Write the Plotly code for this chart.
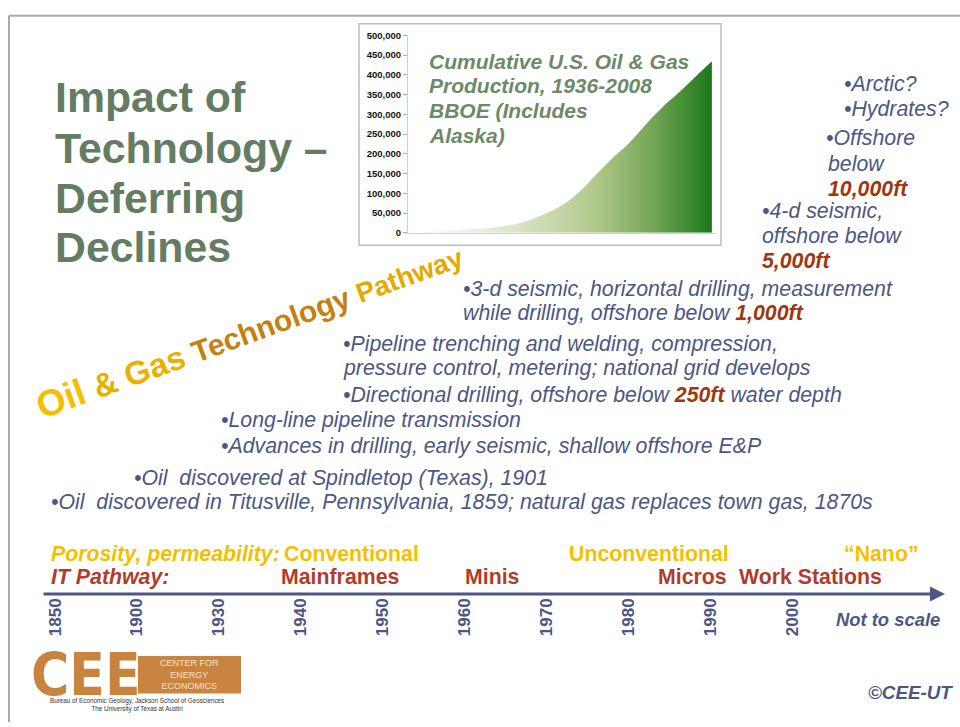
import plotly.graph_objects as go

W, H = 960, 727

# ---- Inset chart data: cumulative U.S. oil & gas production (BBOE) ----
prod_years = [1936, 1940, 1944, 1948, 1952, 1956, 1960, 1964, 1968, 1972,
              1976, 1980, 1984, 1988, 1992, 1996, 2000, 2004, 2008]
prod_cum = [0, 2500, 5000, 8000, 11000, 15000, 21000, 33000, 50000, 72000,
            105000, 148000, 190000, 228000, 275000, 318000, 355000, 395000, 434000]
inset_ticks = [0, 50000, 100000, 150000, 200000, 250000, 300000, 350000, 400000, 450000, 500000]

# ---- Timeline (not to scale) ----
timeline_years = ["1850", "1900", "1930", "1940", "1950", "1960", "1970", "1980", "1990", "2000"]

SLATE = "#4b5785"
RED = "#a0380f"
GOLD = "#f2c000"
ITRED = "#b03c2c"
TITLE_GREEN = "#647c62"
INSET_GREEN = "#6b8a68"
FONT = "Liberation Sans, Arial, sans-serif"


def px(x):
    return x / W


def py(y):
    return 1 - y / H


fig = go.Figure()

fig.add_trace(go.Scatter(
    x=prod_years, y=prod_cum, mode="lines",
    line=dict(width=0, shape="spline", color="#2e7d22"),
    fill="tozeroy",
    fillgradient=dict(type="horizontal",
                      colorscale=[[0, "#ffffff"], [0.3, "#dfe8cf"], [0.6, "#b3ca8e"],
                                  [0.8, "#74a656"], [1, "#1c781a"]]),
    xaxis="x", yaxis="y", hoverinfo="skip", showlegend=False))

fig.add_trace(go.Scatter(
    x=timeline_years, y=[0] * len(timeline_years), mode="markers",
    marker=dict(opacity=0), xaxis="x2", yaxis="y2",
    hoverinfo="skip", showlegend=False))

annotations = []


def txt(x, y, text, size=21.3, color=SLATE, bold=False, italic=True, anchor="left", family=FONT):
    t = text
    if bold:
        t = "<b>" + t + "</b>"
    if italic:
        t = "<i>" + t + "</i>"
    annotations.append(dict(
        x=px(x), y=py(y), xref="paper", yref="paper", text=t, showarrow=False,
        xanchor=anchor, yanchor="middle", align=anchor,
        font=dict(family=family, size=size, color=color)))


def red(s):
    return "<b><span style='color:%s'>%s</span></b>" % (RED, s)


# Main title
for yy, line in zip([92, 144, 195, 245], ["Impact of", "Technology –", "Deferring", "Declines"]):
    txt(53, yy, line, size=42.8, color=TITLE_GREEN, bold=True, italic=False)

# Inset title
for yy, line in zip([56, 81, 106, 131], ["Cumulative U.S. Oil &amp; Gas", "Production, 1936-2008",
                                          "BBOE (Includes", "Alaska)"]):
    txt(427, yy, line, size=21, color=INSET_GREEN, bold=True, italic=True)

# Right column bullets
txt(842, 79, "•Arctic?")
txt(842, 105, "•Hydrates?")
txt(824, 134, "•Offshore")
txt(826, 160, "below")
txt(826, 186, red("10,000ft"))
txt(760, 208, "•4-d seismic,")
txt(760, 234, "offshore below")
txt(760, 259, red("5,000ft"))

# Middle bullets
txt(461, 287, "•3-d seismic, horizontal drilling, measurement")
txt(461, 312, "while drilling, offshore below " + red("1,000ft"))
txt(341, 343, "•Pipeline trenching and welding, compression,")
txt(341, 368, "pressure control, metering; national grid develops")
txt(341, 395, "•Directional drilling, offshore below " + red("250ft") + " water depth")
txt(219, 420, "•Long-line pipeline transmission")
txt(219, 447, "•Advances in drilling, early seismic, shallow offshore E&amp;P")
txt(132, 479, "•Oil&#160; discovered at Spindletop (Texas), 1901")
txt(49, 504, "•Oil&#160; discovered in Titusville, Pennsylvania, 1859; natural gas replaces town gas, 1870s")

# Timeline category rows
LBL = 21.3
txt(49, 556, "Porosity, permeability:", size=LBL, color=GOLD, bold=True, italic=True)
txt(282, 556, "Conventional", size=LBL, color=GOLD, bold=True, italic=False)
txt(567, 556, "Unconventional", size=LBL, color=GOLD, bold=True, italic=False)
txt(842, 556, "“Nano”", size=LBL, color=GOLD, bold=True, italic=False)
txt(49, 580, "IT Pathway:", size=LBL, color=ITRED, bold=True, italic=True)
txt(279, 580, "Mainframes", size=LBL, color=ITRED, bold=True, italic=False)
txt(463, 580, "Minis", size=LBL, color=ITRED, bold=True, italic=False)
txt(656, 580, "Micros", size=LBL, color=ITRED, bold=True, italic=False)
txt(737, 580, "Work Stations", size=LBL, color=ITRED, bold=True, italic=False)
txt(942, 623, "Not to scale", size=18.4, color=SLATE, bold=True, italic=True, anchor="right")

# Copyright
txt(955, 697, "©CEE-UT", size=18.8, color=SLATE, bold=True, italic=True, anchor="right")

# Timeline arrow
annotations.append(dict(
    x=px(945), y=py(597), xref="paper", yref="paper", text="", showarrow=True,
    ax=-903, ay=0, axref="pixel", ayref="pixel", arrowhead=2, arrowsize=1,
    arrowwidth=3, arrowcolor=SLATE, standoff=0))

# Word-art style pathway label
wordart = ("<b><span style='color:#f3c000;font-size:37px'>Oil </span>"
           "<span style='color:#e8b000;font-size:33px'>&amp; Gas </span>"
           "<span style='color:#c58010;font-size:30px'>Technology </span>"
           "<span style='color:#e4aa00;font-size:27.5px'>Pathway</span></b>")
annotations.append(dict(
    x=px(249), y=py(329), xref="paper", yref="paper", text=wordart, showarrow=False,
    textangle=-20, xanchor="center", yanchor="middle",
    font=dict(family=FONT, size=30, color="#e0a800")))

# Logo
annotations.append(dict(
    x=px(86), y=py(679), xref="paper", yref="paper", text="<b>CEE</b>", showarrow=False,
    xanchor="center", yanchor="middle", borderpad=0,
    font=dict(family="Liberation Sans Narrow, DejaVu Sans Condensed, sans-serif", size=58, color="#c8843e")))
annotations.append(dict(
    x=px(189), y=py(679), xref="paper", yref="paper",
    text="CENTER FOR<br>ENERGY<br>ECONOMICS", showarrow=False,
    xanchor="center", yanchor="middle", align="center",
    font=dict(family=FONT, size=9, color="#f6e3c8")))
annotations.append(dict(
    x=px(137), y=py(710), xref="paper", yref="paper",
    text="Bureau of Economic Geology, Jackson School of Geosciences<br>The University of Texas at Austin",
    showarrow=False, xanchor="center", yanchor="middle", align="center", borderpad=0,
    font=dict(family=FONT, size=6.3, color="#333333")))

shapes = [
    # slide edge
    dict(type="line", xref="paper", yref="paper", x0=px(9), x1=1, y0=py(10), y1=py(10),
         line=dict(color="#aaaaaa", width=2)),
    dict(type="line", xref="paper", yref="paper", x0=px(9), x1=px(9), y0=py(10), y1=0,
         line=dict(color="#aaaaaa", width=2)),
    # inset box
    dict(type="rect", xref="paper", yref="paper", x0=px(359), x1=px(721), y0=py(243), y1=py(18),
         line=dict(color="#bdbdbd", width=1.5), layer="below"),
    # logo box
    dict(type="rect", xref="paper", yref="paper", x0=px(138), x1=px(241), y0=py(698), y1=py(660),
         line=dict(width=0), fillcolor="#c98440", layer="below"),
]

SP = 81.9  # pixel spacing of timeline ticks
X0 = 55    # pixel of first timeline tick

fig.update_layout(
    width=W, height=H, margin=dict(l=0, r=0, t=0, b=0),
    paper_bgcolor="white", plot_bgcolor="rgba(0,0,0,0)",
    showlegend=False,
    xaxis=dict(domain=[px(408), px(716)], range=[1934.3, 2009], showticklabels=False,
               showgrid=False, zeroline=False, showline=True, linecolor="#d0d0d0", ticks=""),
    yaxis=dict(domain=[py(230.3), py(29.7)], range=[0, 500000], tickvals=inset_ticks,
               tickformat=",d", showgrid=False, zeroline=False, showline=True,
               linecolor="#d0d0d0", ticks="outside", ticklen=4, tickcolor="#aaaaaa",
               tickfont=dict(family=FONT, size=9.5, color="#111111", weight="bold")),
    xaxis2=dict(domain=[0, 1], anchor="y2", type="category",
                range=[-X0 / SP, (W - X0) / SP], showgrid=False, zeroline=False,
                showline=False, ticks="", tickangle=-90,
                tickfont=dict(family=FONT, size=17, color=SLATE, weight="bold")),
    yaxis2=dict(domain=[py(597), py(590)], range=[0, 1], visible=False),
    annotations=annotations,
    shapes=shapes,
)

fig.write_html(
    "out.html",
    config={"displayModeBar": False},
    post_script="document.body.style.margin='0';document.body.style.overflow='hidden';",
)
